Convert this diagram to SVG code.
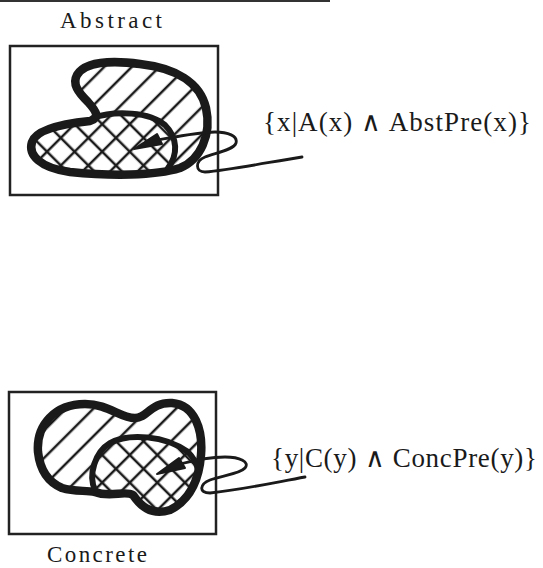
<svg xmlns="http://www.w3.org/2000/svg" width="543" height="568" viewBox="0 0 543 568">
<style>
.frame{fill:none;stroke:#222;stroke-width:2.5}
.blob{fill:none;stroke:#1a1a1a;stroke-width:8.5;stroke-linejoin:round}
.inner{fill:none;stroke:#1a1a1a;stroke-width:6;stroke-linecap:round}
.lbl{font-family:"Liberation Serif","Times New Roman",serif;fill:#1a1a1a}
.wire{fill:none;stroke:#1a1a1a;stroke-width:2.8;stroke-linecap:round}
.head{fill:#1a1a1a;stroke:#1a1a1a;stroke-width:2;stroke-linejoin:round}
</style>
<defs>
<pattern id="fwd" width="19.5" height="19.5" patternUnits="userSpaceOnUse" patternTransform="rotate(45)">
<line x1="4" y1="0" x2="4" y2="19.5" stroke="#1a1a1a" stroke-width="2.5"/>
</pattern>
<pattern id="back" width="19.5" height="19.5" patternUnits="userSpaceOnUse" patternTransform="rotate(-45)">
<line x1="4" y1="0" x2="4" y2="19.5" stroke="#1a1a1a" stroke-width="2.5"/>
</pattern>
</defs>
<line x1="0" y1="1" x2="330" y2="1" stroke="#333" stroke-width="2"/>

<g id="abstract">
<text class="lbl" x="60" y="28" font-size="23" textLength="102" lengthAdjust="spacing">Abstract</text>
<rect class="frame" x="10" y="46" width="208" height="149"/>
<path fill="url(#fwd)" d="M77,75 C85,62 110,60 140,64 C175,68 200,82 206,108 C212,135 200,160 180,168 C155,176 110,176 70,172 C40,168 28,155 32,142 C36,130 60,124 90,121 C100,118 97,112 88,102 C78,92 72,84 77,75 Z"/>
<path fill="url(#back)" d="M95,117 C115,110 150,112 165,125 C178,138 178,158 168,170 C140,176 100,176 70,172 C40,168 28,155 32,142 C36,130 60,124 90,121 Z"/>
<path class="blob" d="M77,75 C85,62 110,60 140,64 C175,68 200,82 206,108 C212,135 200,160 180,168 C155,176 110,176 70,172 C40,168 28,155 32,142 C36,130 60,124 90,121 C100,118 97,112 88,102 C78,92 72,84 77,75 Z"/>
<path class="inner" d="M93,118 C115,110 150,112 165,125 C178,138 178,155 168,168"/>
</g>
<g id="abstract-set">
<text class="lbl" x="263" y="131" font-size="27" textLength="268" lengthAdjust="spacing">{x|A(x) ∧ AbstPre(x)}</text>
</g>

<g id="concrete">
<rect class="frame" x="9" y="392" width="207" height="142"/>
<path fill="url(#fwd)" d="M38,452 C36,425 55,404 85,404 C108,404 120,418 135,418 C148,418 150,402 172,403 C195,405 203,430 201,455 C199,480 190,500 170,510 C150,516 140,505 133,495 C125,490 110,498 95,492 C85,490 75,492 62,488 C48,482 40,470 38,452 Z"/>
<path fill="url(#back)" d="M95,490 C88,475 95,452 110,443 C128,433 165,435 188,452 C196,460 199,468 199,472 C195,490 185,503 170,510 C150,516 140,505 133,495 C125,490 110,498 95,492 Z"/>
<path class="blob" d="M38,452 C36,425 55,404 85,404 C108,404 120,418 135,418 C148,418 150,402 172,403 C195,405 203,430 201,455 C199,480 190,500 170,510 C150,516 140,505 133,495 C125,490 110,498 95,492 C85,490 75,492 62,488 C48,482 40,470 38,452 Z"/>
<path class="inner" d="M95,490 C88,475 95,452 110,443 C128,433 165,435 188,452 C194,458 197,465 198,470"/>
<text class="lbl" x="47" y="562" font-size="23" textLength="100" lengthAdjust="spacing">Concrete</text>
</g>
<g id="concrete-set">
<text class="lbl" x="271" y="467" font-size="27" textLength="266" lengthAdjust="spacing">{y|C(y) ∧ ConcPre(y)}</text>
</g>

<g id="connectors">
<path class="wire" d="M158,140 C180,136 200,132 215,132 C228,132 238,136 236,143 C234,150 215,153 205,157 C195,161 195,172 205,172 C230,170 270,162 302,157"/>
<polygon class="head" points="134,149 157,134 162,144"/>
<path class="wire" d="M180,464 C195,460 210,457 225,457 C240,457 250,462 245,468 C240,474 220,476 210,480 C200,484 198,493 210,493 C240,490 272,483 305,477"/>
<polygon class="head" points="157,474 179,458 185,468"/>
</g>
</svg>
